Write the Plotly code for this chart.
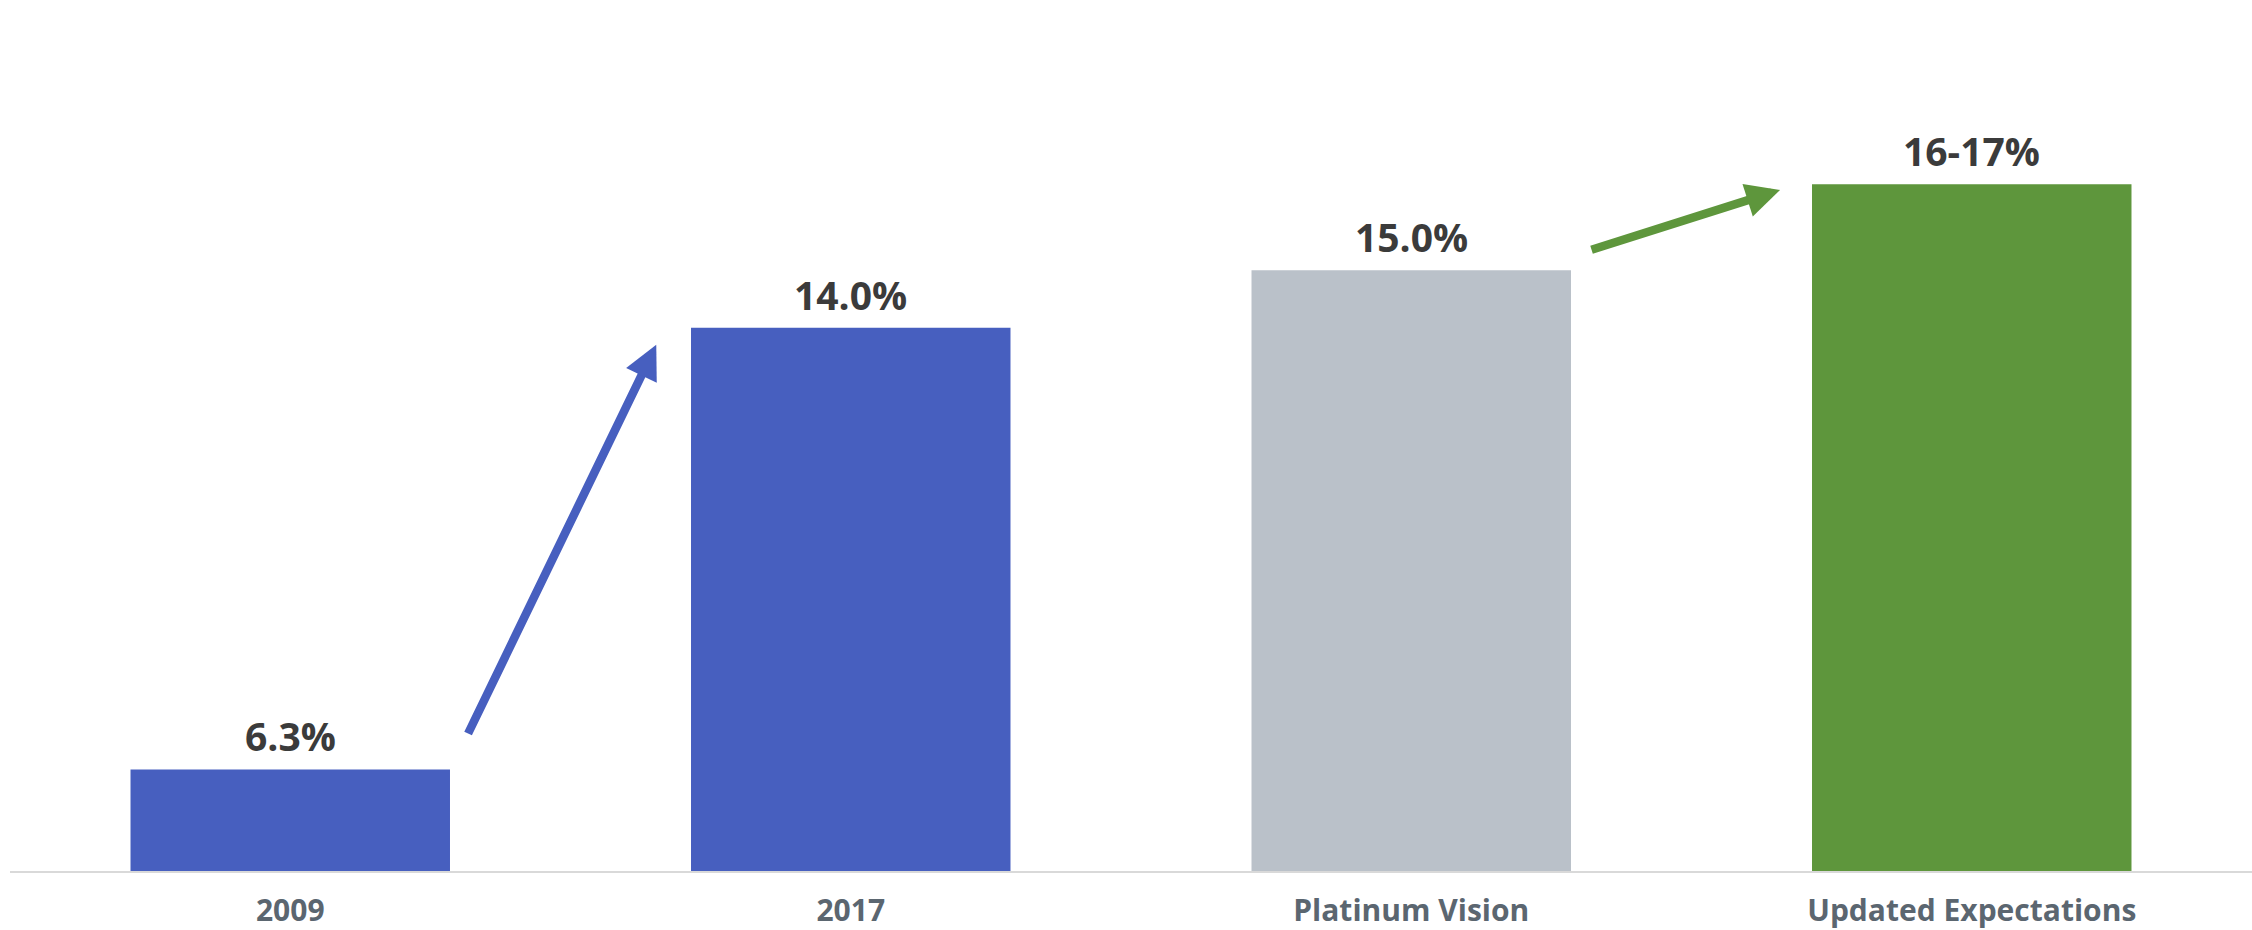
import plotly.graph_objects as go

# Chart data
categories = ["2009", "2017", "Platinum Vision", "Updated Expectations"]
values = [6.3, 14.0, 15.0, 16.5]
value_labels = ["6.3%", "14.0%", "15.0%", "16-17%"]
bar_colors = ["#475FBF", "#475FBF", "#BAC1C9", "#5E963C"]

VALUE_FONT = "'Open Sans', Roboto, sans-serif"
AXIS_FONT = "'Open Sans', Roboto, sans-serif"

fig = go.Figure(
    go.Bar(
        x=categories,
        y=values,
        marker=dict(color=bar_colors, line=dict(width=0)),
        cliponaxis=False,
        hoverinfo="skip",
    )
)

# Value labels sitting just above each bar (x given as category index)
for idx, (val, lab) in enumerate(zip(values, value_labels)):
    fig.add_annotation(
        x=idx, y=val, xref="x", yref="y",
        text=f"<b>{lab}</b>", showarrow=False,
        yanchor="bottom", yshift=5,
        font=dict(family=VALUE_FONT, size=39, color="#3B3B3B", weight=800),
    )

# Growth arrows linking consecutive bars (tail near the lower bar, head near the next bar's top)
arrow_specs = [
    # (tail x, tail y, head x, head y, colour)
    (0.316, values[0] + 0.6, 0.653, values[1] - 0.3, "#475FBF"),
    (2.319, values[2] + 0.35, 2.658, values[3] - 0.1, "#5E963C"),
]
for tx, ty, hx, hy, col in arrow_specs:
    fig.add_annotation(
        x=hx, y=hy, ax=tx, ay=ty,
        xref="x", yref="y", axref="x", ayref="y",
        text="", showarrow=True,
        arrowhead=2, arrowsize=0.8, arrowwidth=8.5, arrowcolor=col,
        standoff=0, startstandoff=0,
    )

fig.update_layout(
    width=2252,
    height=930,
    margin=dict(l=10, r=0, t=0, b=51),
    paper_bgcolor="white",
    plot_bgcolor="white",
    bargap=0.43,
    showlegend=False,
    xaxis=dict(
        type="category",
        range=[-0.5, 3.5],
        showline=True,
        linecolor="#D9D9D9",
        linewidth=2,
        showgrid=False,
        zeroline=False,
        ticks="",
        ticklabelstandoff=12,
        tickfont=dict(family=AXIS_FONT, size=30, color="#5B6670", weight="bold"),
    ),
    yaxis=dict(
        range=[4.53, 19.71],
        visible=False,
        showgrid=False,
        zeroline=False,
    ),
)

fig.write_html("out.html")
